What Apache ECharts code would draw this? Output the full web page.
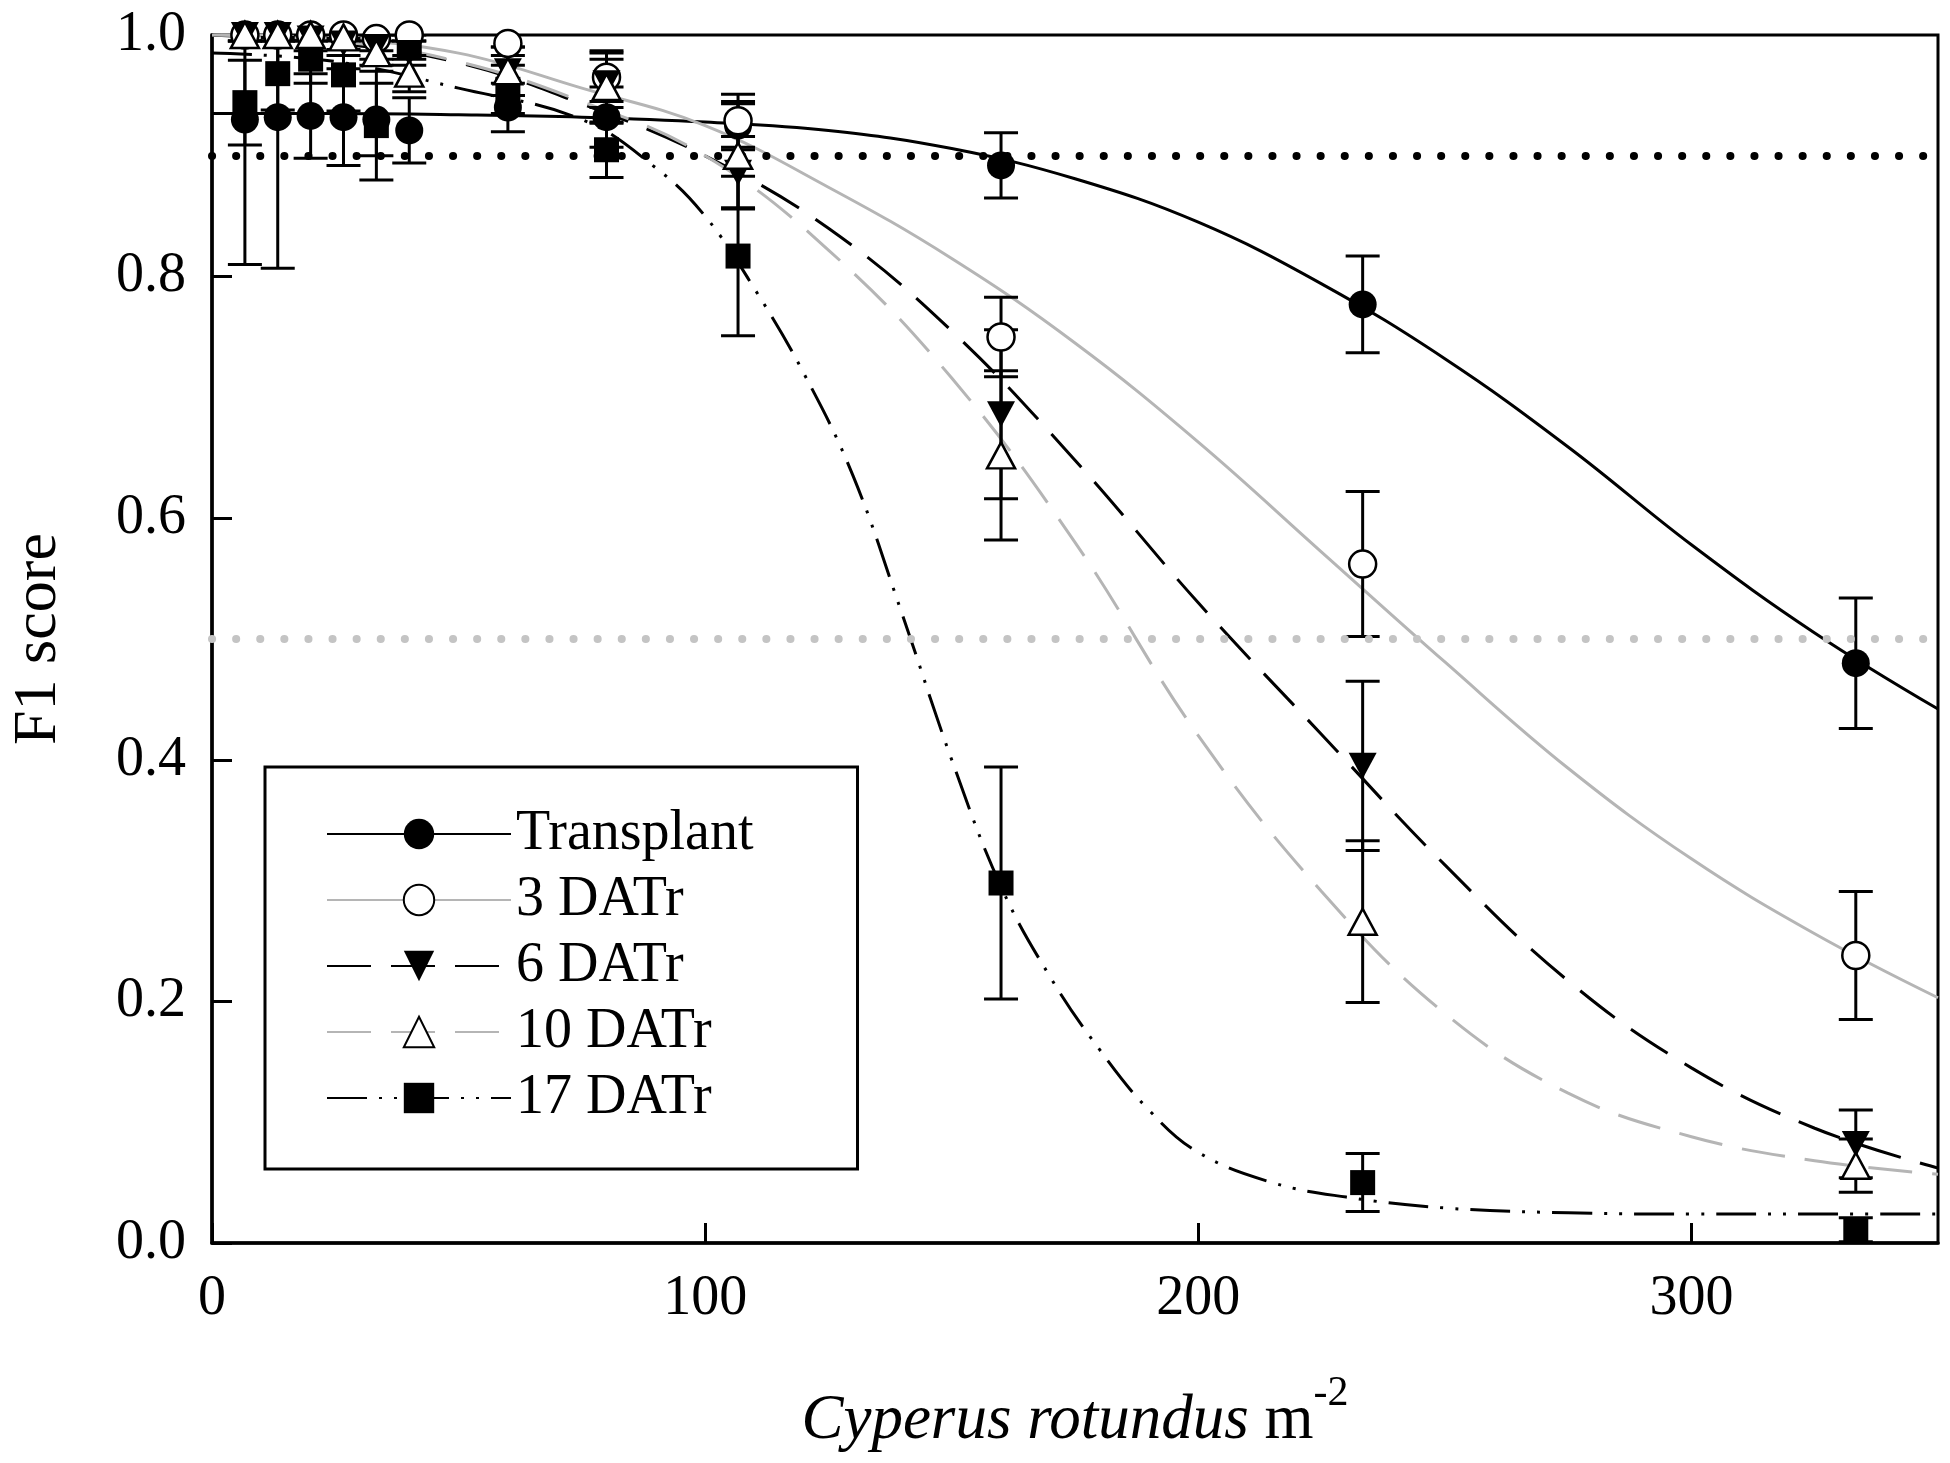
<!DOCTYPE html>
<html>
<head>
<meta charset="utf-8">
<script src="https://cdn.jsdelivr.net/npm/echarts@6/dist/echarts.min.js"></script>
<style>
  html, body { margin: 0; padding: 0; background: #fff; }
  #chart { width: 1950px; height: 1463px; }
</style>
</head>
<body>
<div id="chart"></div>
<script>
// weed densities (plants m-2) where F1 was measured
var densities = [6.67, 13.33, 20, 26.67, 33.33, 40, 60, 80, 106.67, 160, 233.33, 333.33];

// mean F1 score and error per timing
var transplantMean = [0.930, 0.932, 0.933, 0.932, 0.930, 0.921, 0.940, 0.932, 0.925, 0.892, 0.777, 0.480];
var transplantErr  = [0.12, 0.125, 0.035, 0.04, 0.03, 0.027, 0.02, 0.025, 0.02, 0.027, 0.04, 0.054];
var datr3Mean  = [1.0, 1.0, 1.0, 1.0, 0.997, 1.0, 0.993, 0.965, 0.929, 0.750, 0.562, 0.238];
var datr3Err   = [0.005, 0.005, 0.005, 0.005, 0.01, 0.005, 0.01, 0.02, 0.022, 0.033, 0.06, 0.053];
var datr6Mean  = [1.0, 1.0, 0.997, 0.993, 0.99, 0.985, 0.97, 0.96, 0.886, 0.686, 0.395, 0.082];
var datr6Err   = [0.005, 0.005, 0.01, 0.01, 0.01, 0.01, 0.02, 0.02, 0.03, 0.07, 0.07, 0.028];
var datr10Mean = [1.0, 1.0, 1.0, 0.998, 0.985, 0.968, 0.97, 0.957, 0.90, 0.652, 0.266, 0.064];
var datr10Err  = [0.005, 0.005, 0.005, 0.01, 0.01, 0.015, 0.02, 0.03, 0.043, 0.07, 0.067, 0.022];
var datr17Mean = [0.944, 0.968, 0.98, 0.967, 0.925, 0.99, 0.955, 0.905, 0.817, 0.298, 0.05, 0.011];
var datr17Err  = [0.035, 0.03, 0.02, 0.03, 0.045, 0.01, 0.02, 0.023, 0.066, 0.096, 0.024, 0.01];

// fitted curves
var curveX = [0, 25, 50, 75, 100, 125, 150, 175, 200, 225, 250, 275, 300, 325, 350];
var transplantFit = [0.935, 0.935, 0.934, 0.932, 0.928, 0.921, 0.906, 0.881, 0.845, 0.794, 0.732, 0.659, 0.578, 0.505, 0.442];
var datr3Fit  = [1.0, 0.997, 0.985, 0.956, 0.925, 0.874, 0.815, 0.745, 0.663, 0.572, 0.481, 0.393, 0.318, 0.256, 0.203];
var datr6Fit  = [1.0, 0.993, 0.977, 0.943, 0.90, 0.84, 0.755, 0.648, 0.53, 0.421, 0.313, 0.217, 0.145, 0.095, 0.062];
var datr10Fit = [1.0, 0.995, 0.978, 0.945, 0.90, 0.822, 0.716, 0.58, 0.42, 0.291, 0.19, 0.124, 0.088, 0.068, 0.057];
var curve17X  = [0, 25, 50, 75, 90, 100, 110, 120, 130, 140, 150, 160, 170, 180, 190, 200, 215, 230, 250, 275, 300, 325, 350];
var datr17Fit = [0.985, 0.978, 0.956, 0.93, 0.89, 0.85, 0.79, 0.72, 0.635, 0.52, 0.40, 0.295, 0.22, 0.16, 0.11, 0.075, 0.05, 0.038, 0.029, 0.025, 0.024, 0.024, 0.024];

var yTicks = [0, 0.2, 0.4, 0.6, 0.8, 1.0];
var xTicks = [0, 100, 200, 300];
var thresholds = [0.9, 0.5];

var FONT = '"Liberation Serif", "Times New Roman", serif';
var GRAY = '#b5b5b5';

function zip(xs, ys) {
  return xs.map(function (x, i) { return [x, ys[i]]; });
}

function errBars(means, errs, z) {
  return {
    type: 'custom',
    silent: true,
    clip: true,
    z: z,
    renderItem: function (params, api) {
      var lo = api.coord([api.value(0), api.value(1)]);
      var hi = api.coord([api.value(0), api.value(2)]);
      var w = 17;
      var st = { stroke: '#000', lineWidth: 3 };
      return {
        type: 'group',
        children: [
          { type: 'line', shape: { x1: lo[0], y1: lo[1], x2: hi[0], y2: hi[1] }, style: st },
          { type: 'line', shape: { x1: lo[0] - w, y1: lo[1], x2: lo[0] + w, y2: lo[1] }, style: st },
          { type: 'line', shape: { x1: hi[0] - w, y1: hi[1], x2: hi[0] + w, y2: hi[1] }, style: st }
        ]
      };
    },
    encode: { x: 0, y: [1, 2] },
    data: densities.map(function (x, i) { return [x, means[i] - errs[i], means[i] + errs[i]]; })
  };
}

function points(means, symbol, size, style, rotate, z) {
  return {
    type: 'scatter',
    silent: true,
    clip: false,
    z: z,
    symbol: symbol,
    symbolSize: size,
    symbolRotate: rotate || 0,
    itemStyle: style,
    data: zip(densities, means)
  };
}

var filled = { color: '#000', opacity: 1 };
var hollow = { color: '#fff', borderColor: '#000', borderWidth: 2.5, opacity: 1 };

var option = {
  animation: false,
  backgroundColor: '#fff',
  grid: {
    left: 205, right: 12, top: 35, bottom: 220,
    show: true, borderColor: '#000', borderWidth: 3
  },
  legend: {
    orient: 'vertical',
    left: 265, top: 767,
    padding: [37, 104, 41, 61],
    itemWidth: 184, itemHeight: 38, itemGap: 6,
    borderColor: '#000', borderWidth: 3,
    backgroundColor: '#fff',
    selectedMode: false,
    textStyle: { fontFamily: FONT, fontSize: 56, color: '#000', lineHeight: 60 },
    data: ['Transplant', '3 DATr', '6 DATr', '10 DATr', '17 DATr']
  },
  xAxis: {
    type: 'value', min: 0, max: 350, interval: 100,
    name: '{i|Cyperus rotundus}{n| m}{s|-2}',
    nameLocation: 'middle', nameGap: 130,
    nameTextStyle: {
      rich: {
        i: { fontFamily: FONT, fontStyle: 'italic', fontSize: 63, color: '#000', lineHeight: 80, verticalAlign: 'bottom' },
        n: { fontFamily: FONT, fontSize: 63, color: '#000', lineHeight: 80, verticalAlign: 'bottom' },
        s: { fontFamily: FONT, fontSize: 42, color: '#000', lineHeight: 42, verticalAlign: 'top' }
      }
    },
    axisLine: { lineStyle: { color: '#000', width: 3.5 } },
    axisTick: { inside: true, length: 20, lineStyle: { color: '#000', width: 3 } },
    axisLabel: {
      margin: 28, fontFamily: FONT, fontSize: 56, color: '#000', showMaxLabel: false,
      formatter: function (v) { return xTicks.indexOf(v) >= 0 ? String(v) : ''; }
    },
    splitLine: { show: false }
  },
  yAxis: {
    type: 'value', min: 0, max: 1, interval: 0.2,
    name: 'F1 score',
    nameLocation: 'middle', nameGap: 142,
    nameTextStyle: { fontFamily: FONT, fontSize: 62, color: '#000' },
    axisLine: { lineStyle: { color: '#000', width: 3.5 } },
    axisTick: { inside: true, length: 20, lineStyle: { color: '#000', width: 3 } },
    axisLabel: {
      margin: 26, fontFamily: FONT, fontSize: 56, color: '#000',
      formatter: function (v) {
        var t = yTicks.filter(function (k) { return Math.abs(k - v) < 1e-6; });
        return t.length ? v.toFixed(1) : '';
      }
    },
    splitLine: { show: false }
  },
  series: [
    {
      type: 'line', name: 'Transplant', data: zip(curveX, transplantFit),
      smooth: 0.4, showSymbol: false, symbol: 'circle', silent: true, z: 3,
      lineStyle: { color: '#000', width: 3 }, itemStyle: filled,
      markLine: {
        silent: true, symbol: 'none', label: { show: false },
        data: [
          { yAxis: thresholds[0], lineStyle: { color: '#000', width: 8, type: [0.1, 24], cap: 'round' } },
          { yAxis: thresholds[1], lineStyle: { color: '#c4c4c4', width: 8, type: [0.1, 24], cap: 'round' } }
        ]
      }
    },
    {
      type: 'line', name: '3 DATr', data: zip(curveX, datr3Fit),
      smooth: 0.4, showSymbol: false, symbol: 'circle', silent: true, z: 3,
      lineStyle: { color: GRAY, width: 3 }, itemStyle: hollow
    },
    {
      type: 'line', name: '6 DATr', data: zip(curveX, datr6Fit),
      smooth: 0.4, showSymbol: false, symbol: 'triangle', symbolRotate: 180, silent: true, z: 3,
      lineStyle: { color: '#000', width: 3, type: [44, 20] }, itemStyle: filled
    },
    {
      type: 'line', name: '10 DATr', data: zip(curveX, datr10Fit),
      smooth: 0.4, showSymbol: false, symbol: 'triangle', silent: true, z: 3,
      lineStyle: { color: GRAY, width: 3, type: [44, 20] }, itemStyle: hollow
    },
    {
      type: 'line', name: '17 DATr', data: zip(curve17X, datr17Fit),
      smooth: 0.4, showSymbol: false, symbol: 'rect', silent: true, z: 3,
      lineStyle: { color: '#000', width: 3, type: [40, 12, 3, 12, 3, 12] }, itemStyle: filled
    },
    errBars(transplantMean, transplantErr, 4),
    errBars(datr3Mean, datr3Err, 4),
    errBars(datr6Mean, datr6Err, 4),
    errBars(datr10Mean, datr10Err, 4),
    errBars(datr17Mean, datr17Err, 4),
    points(datr17Mean, 'rect', 25, filled, 0, 5),
    points(transplantMean, 'circle', 28, filled, 0, 6),
    points(datr3Mean, 'circle', 27, hollow, 0, 6),
    points(datr6Mean, 'triangle', [28, 26], filled, 180, 7),
    points(datr10Mean, 'triangle', [28, 26], hollow, 0, 7)
  ]
};

var chart = echarts.init(document.getElementById('chart'));
chart.setOption(option);
</script>
</body>
</html>
